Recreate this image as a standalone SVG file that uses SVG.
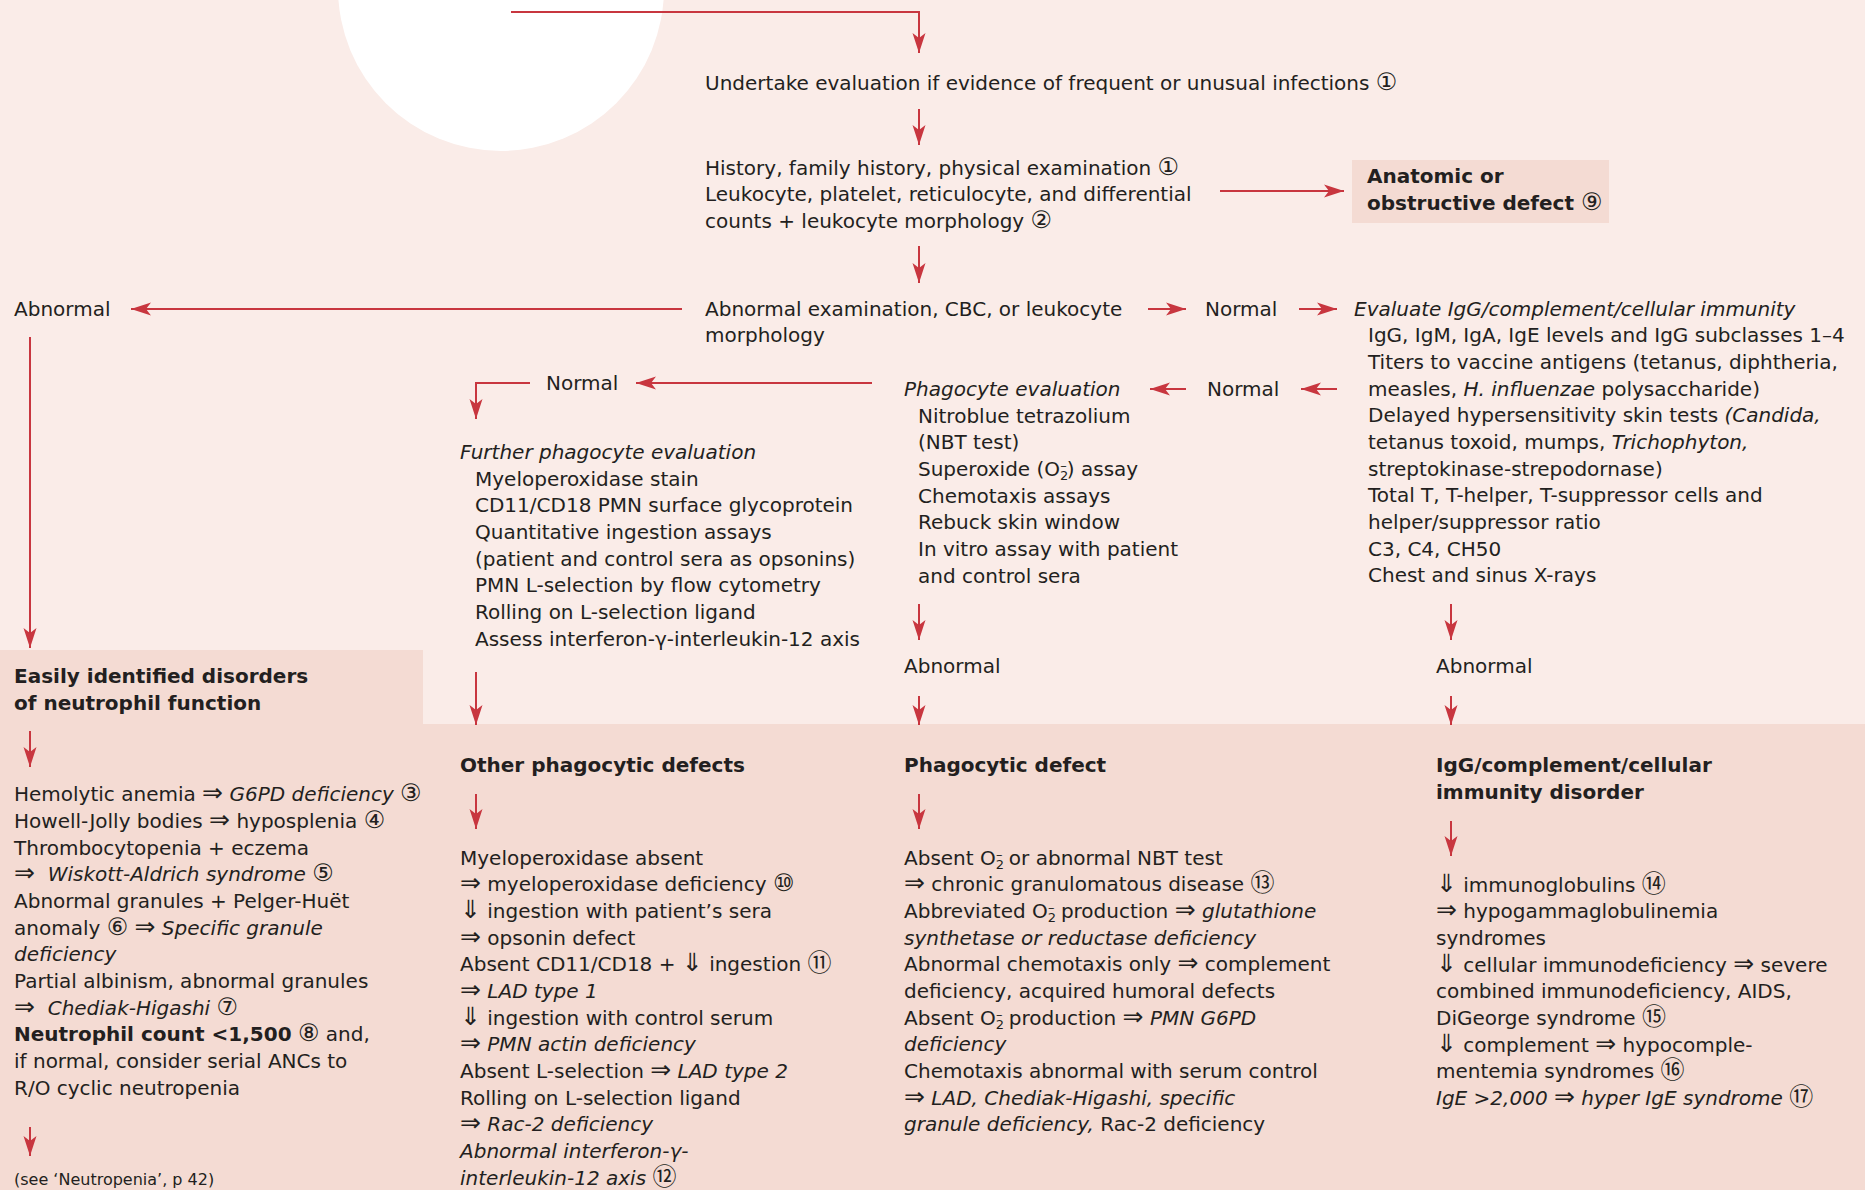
<svg xmlns="http://www.w3.org/2000/svg" width="1865" height="1190" viewBox="0 0 1865 1190">
  <style>
    .t { font-family: 'DejaVu Sans', 'Noto Sans CJK JP', sans-serif; font-size: 20px; fill: #231f20; }
    .i { font-style: italic; }
    .b { font-weight: bold; }
    .r { font-weight: normal; }
    .s { font-size: 16px; }
    .sub { font-size: 13px; }
    .ar { font-style: normal; font-weight: normal; font-size: 25px; }
    .n { font-style: normal; font-weight: normal; font-size: 24px; }
    .bg1 { fill: #faece8; }
    .bg2 { fill: #f4dbd3; }
    .c { stroke: #c8363f; stroke-width: 2; fill: none; }
  </style>
  <defs>
    <marker id="ah" markerUnits="userSpaceOnUse" markerWidth="22" markerHeight="14" refX="20" refY="7" orient="auto">
      <path d="M0,0.5 L20,7 L0,13.5 L5,7 Z" fill="#c8363f"/>
    </marker>
  </defs>

  <!-- backgrounds -->
  <rect class="bg1" x="0" y="0" width="1865" height="1190"/>
  <polygon class="bg2" points="0,650 423,650 423,724 1865,724 1865,1190 0,1190"/>
  <circle cx="501" cy="-12" r="163" fill="#ffffff"/>

  <!-- connectors -->
  <g id="connectors">
    <path class="c" d="M511,12 H919 V53" marker-end="url(#ah)"/>
    <path class="c" d="M919,109 V145" marker-end="url(#ah)"/>
    <path class="c" d="M1220,191 H1344" marker-end="url(#ah)"/>
    <path class="c" d="M919,246 V283" marker-end="url(#ah)"/>
    <path class="c" d="M682,309 H131" marker-end="url(#ah)"/>
    <path class="c" d="M30,337 V648" marker-end="url(#ah)"/>
    <path class="c" d="M1148,309 H1186" marker-end="url(#ah)"/>
    <path class="c" d="M1299,309 H1337" marker-end="url(#ah)"/>
    <path class="c" d="M1337,389 H1301" marker-end="url(#ah)"/>
    <path class="c" d="M1186,389 H1150" marker-end="url(#ah)"/>
    <path class="c" d="M872,383 H636" marker-end="url(#ah)"/>
    <path class="c" d="M530,383 H476 V419" marker-end="url(#ah)"/>
    <path class="c" d="M476,672 V725" marker-end="url(#ah)"/>
    <path class="c" d="M919,604 V640" marker-end="url(#ah)"/>
    <path class="c" d="M919,696 V725" marker-end="url(#ah)"/>
    <path class="c" d="M1451,604 V640" marker-end="url(#ah)"/>
    <path class="c" d="M1451,696 V725" marker-end="url(#ah)"/>
    <path class="c" d="M30,731 V767" marker-end="url(#ah)"/>
    <path class="c" d="M476,794 V829" marker-end="url(#ah)"/>
    <path class="c" d="M919,794 V829" marker-end="url(#ah)"/>
    <path class="c" d="M1451,821 V856" marker-end="url(#ah)"/>
    <path class="c" d="M30,1127 V1156" marker-end="url(#ah)"/>
  </g>

  <g id="start">
    <text class="t" x="705" y="90">Undertake evaluation if evidence of frequent or unusual infections <tspan class="n">①</tspan></text>
  </g>

  <g id="history">
    <text class="t" x="705" y="175">History, family history, physical examination <tspan class="n">①</tspan></text>
    <text class="t" x="705" y="201">Leukocyte, platelet, reticulocyte, and differential</text>
    <text class="t" x="705" y="228">counts + leukocyte morphology <tspan class="n">②</tspan></text>
  </g>

  <g id="anatomic">
    <rect class="bg2" x="1352" y="160" width="257" height="63"/>
    <text class="t b" x="1367" y="183">Anatomic or</text>
    <text class="t b" x="1367" y="210">obstructive defect <tspan class="n">⑨</tspan></text>
  </g>

  <g id="exam">
    <text class="t" x="705" y="316">Abnormal examination, CBC, or leukocyte</text>
    <text class="t" x="705" y="342">morphology</text>
  </g>

  <g id="abnormal-left">
    <text class="t" x="14" y="316">Abnormal</text>
  </g>

  <g id="normal-1">
    <text class="t" x="1205" y="316">Normal</text>
  </g>

  <g id="evaluate-igg">
    <text class="t i" x="1354" y="316">Evaluate IgG/complement/cellular immunity</text>
    <text class="t" x="1368" y="342">IgG, IgM, IgA, IgE levels and IgG subclasses 1–4</text>
    <text class="t" x="1368" y="369">Titers to vaccine antigens (tetanus, diphtheria,</text>
    <text class="t" x="1368" y="396">measles, <tspan class="i">H. influenzae</tspan> polysaccharide)</text>
    <text class="t" x="1368" y="422">Delayed hypersensitivity skin tests <tspan class="i">(Candida,</tspan></text>
    <text class="t" x="1368" y="449">tetanus toxoid, mumps, <tspan class="i">Trichophyton,</tspan></text>
    <text class="t" x="1368" y="476">streptokinase-strepodornase)</text>
    <text class="t" x="1368" y="502">Total T, T-helper, T-suppressor cells and</text>
    <text class="t" x="1368" y="529">helper/suppressor ratio</text>
    <text class="t" x="1368" y="556">C3, C4, CH50</text>
    <text class="t" x="1368" y="582">Chest and sinus X-rays</text>
  </g>

  <g id="normal-2">
    <text class="t" x="1207" y="396">Normal</text>
  </g>

  <g id="phagocyte-eval">
    <text class="t i" x="904" y="396">Phagocyte evaluation</text>
    <text class="t" x="918" y="423">Nitroblue tetrazolium</text>
    <text class="t" x="918" y="449">(NBT test)</text>
    <text class="t" x="918" y="476">Superoxide (O<tspan class="sub" dy="4">2</tspan><tspan class="sub" dx="-8" dy="-10">–</tspan><tspan dy="6">) assay</tspan></text>
    <text class="t" x="918" y="503">Chemotaxis assays</text>
    <text class="t" x="918" y="529">Rebuck skin window</text>
    <text class="t" x="918" y="556">In vitro assay with patient</text>
    <text class="t" x="918" y="583">and control sera</text>
  </g>

  <g id="normal-3">
    <text class="t" x="546" y="390">Normal</text>
  </g>

  <g id="further-eval">
    <text class="t i" x="460" y="459">Further phagocyte evaluation</text>
    <text class="t" x="475" y="486">Myeloperoxidase stain</text>
    <text class="t" x="475" y="512">CD11/CD18 PMN surface glycoprotein</text>
    <text class="t" x="475" y="539">Quantitative ingestion assays</text>
    <text class="t" x="475" y="566">(patient and control sera as opsonins)</text>
    <text class="t" x="475" y="592">PMN L-selection by flow cytometry</text>
    <text class="t" x="475" y="619">Rolling on L-selection ligand</text>
    <text class="t" x="475" y="646">Assess interferon-γ-interleukin-12 axis</text>
  </g>

  <g id="abnormal-mid">
    <text class="t" x="904" y="673">Abnormal</text>
  </g>

  <g id="abnormal-right">
    <text class="t" x="1436" y="673">Abnormal</text>
  </g>

  <g id="neutrophil-disorders">
    <text class="t b" x="14" y="683">Easily identified disorders</text>
    <text class="t b" x="14" y="710">of neutrophil function</text>
    <text class="t" x="14" y="801">Hemolytic anemia <tspan class="ar">⇒</tspan> <tspan class="i">G6PD deficiency</tspan> <tspan class="n">③</tspan></text>
    <text class="t" x="14" y="828">Howell-Jolly bodies <tspan class="ar">⇒</tspan> hyposplenia <tspan class="n">④</tspan></text>
    <text class="t" x="14" y="855">Thrombocytopenia + eczema</text>
    <text class="t" x="14" y="881"><tspan class="ar">⇒</tspan>&#160; <tspan class="i">Wiskott-Aldrich syndrome</tspan> <tspan class="n">⑤</tspan></text>
    <text class="t" x="14" y="908">Abnormal granules + Pelger-Huët</text>
    <text class="t" x="14" y="935">anomaly <tspan class="n">⑥</tspan> <tspan class="ar">⇒</tspan> <tspan class="i">Specific granule</tspan></text>
    <text class="t i" x="14" y="961">deficiency</text>
    <text class="t" x="14" y="988">Partial albinism, abnormal granules</text>
    <text class="t" x="14" y="1015"><tspan class="ar">⇒</tspan>&#160; <tspan class="i">Chediak-Higashi</tspan> <tspan class="n">⑦</tspan></text>
    <text class="t" x="14" y="1041"><tspan class="b">Neutrophil count &lt;1,500</tspan> <tspan class="n">⑧</tspan> and,</text>
    <text class="t" x="14" y="1068">if normal, consider serial ANCs to</text>
    <text class="t" x="14" y="1095">R/O cyclic neutropenia</text>
    <text class="t s" x="14" y="1185">(see ‘Neutropenia’, p 42)</text>
  </g>

  <g id="other-phagocytic">
    <text class="t b" x="460" y="772">Other phagocytic defects</text>
    <text class="t" x="460" y="865">Myeloperoxidase absent</text>
    <text class="t" x="460" y="891"><tspan class="ar">⇒</tspan> myeloperoxidase deficiency <tspan class="n">⑩</tspan></text>
    <text class="t" x="460" y="918"><tspan class="ar">⇓</tspan> ingestion with patient’s sera</text>
    <text class="t" x="460" y="945"><tspan class="ar">⇒</tspan> opsonin defect</text>
    <text class="t" x="460" y="971">Absent CD11/CD18 + <tspan class="ar">⇓</tspan> ingestion <tspan class="n">⑪</tspan></text>
    <text class="t" x="460" y="998"><tspan class="ar">⇒</tspan> <tspan class="i">LAD type 1</tspan></text>
    <text class="t" x="460" y="1025"><tspan class="ar">⇓</tspan> ingestion with control serum</text>
    <text class="t" x="460" y="1051"><tspan class="ar">⇒</tspan> <tspan class="i">PMN actin deficiency</tspan></text>
    <text class="t" x="460" y="1078">Absent L-selection <tspan class="ar">⇒</tspan> <tspan class="i">LAD type 2</tspan></text>
    <text class="t" x="460" y="1105">Rolling on L-selection ligand</text>
    <text class="t" x="460" y="1131"><tspan class="ar">⇒</tspan> <tspan class="i">Rac-2 deficiency</tspan></text>
    <text class="t i" x="460" y="1158">Abnormal interferon-γ-</text>
    <text class="t" x="460" y="1185"><tspan class="i">interleukin-12 axis</tspan> <tspan class="n">⑫</tspan></text>
  </g>

  <g id="phagocytic-defect">
    <text class="t b" x="904" y="772">Phagocytic defect</text>
    <text class="t" x="904" y="865">Absent O<tspan class="sub" dy="4">2</tspan><tspan class="sub" dx="-8" dy="-10">–</tspan><tspan dy="6"> or abnormal NBT test</tspan></text>
    <text class="t" x="904" y="891"><tspan class="ar">⇒</tspan> chronic granulomatous disease <tspan class="n">⑬</tspan></text>
    <text class="t" x="904" y="918">Abbreviated O<tspan class="sub" dy="4">2</tspan><tspan class="sub" dx="-8" dy="-10">–</tspan><tspan dy="6"> production </tspan><tspan class="ar">⇒</tspan> <tspan class="i">glutathione</tspan></text>
    <text class="t i" x="904" y="945">synthetase or reductase deficiency</text>
    <text class="t" x="904" y="971">Abnormal chemotaxis only <tspan class="ar">⇒</tspan> complement</text>
    <text class="t" x="904" y="998">deficiency, acquired humoral defects</text>
    <text class="t" x="904" y="1025">Absent O<tspan class="sub" dy="4">2</tspan><tspan class="sub" dx="-8" dy="-10">–</tspan><tspan dy="6"> production </tspan><tspan class="ar">⇒</tspan> <tspan class="i">PMN G6PD</tspan></text>
    <text class="t i" x="904" y="1051">deficiency</text>
    <text class="t" x="904" y="1078">Chemotaxis abnormal with serum control</text>
    <text class="t" x="904" y="1105"><tspan class="ar">⇒</tspan> <tspan class="i">LAD, Chediak-Higashi, specific</tspan></text>
    <text class="t" x="904" y="1131"><tspan class="i">granule deficiency,</tspan> Rac-2 deficiency</text>
  </g>

  <g id="immunity-disorder">
    <text class="t b" x="1436" y="772">IgG/complement/cellular</text>
    <text class="t b" x="1436" y="799">immunity disorder</text>
    <text class="t" x="1436" y="892"><tspan class="ar">⇓</tspan> immunoglobulins <tspan class="n">⑭</tspan></text>
    <text class="t" x="1436" y="918"><tspan class="ar">⇒</tspan> hypogammaglobulinemia</text>
    <text class="t" x="1436" y="945">syndromes</text>
    <text class="t" x="1436" y="972"><tspan class="ar">⇓</tspan> cellular immunodeficiency <tspan class="ar">⇒</tspan> severe</text>
    <text class="t" x="1436" y="998">combined immunodeficiency, AIDS,</text>
    <text class="t" x="1436" y="1025">DiGeorge syndrome <tspan class="n">⑮</tspan></text>
    <text class="t" x="1436" y="1052"><tspan class="ar">⇓</tspan> complement <tspan class="ar">⇒</tspan> hypocomple-</text>
    <text class="t" x="1436" y="1078">mentemia syndromes <tspan class="n">⑯</tspan></text>
    <text class="t" x="1436" y="1105"><tspan class="i">IgE &gt;2,000</tspan> <tspan class="ar">⇒</tspan> <tspan class="i">hyper IgE syndrome</tspan> <tspan class="n">⑰</tspan></text>
  </g>
</svg>
